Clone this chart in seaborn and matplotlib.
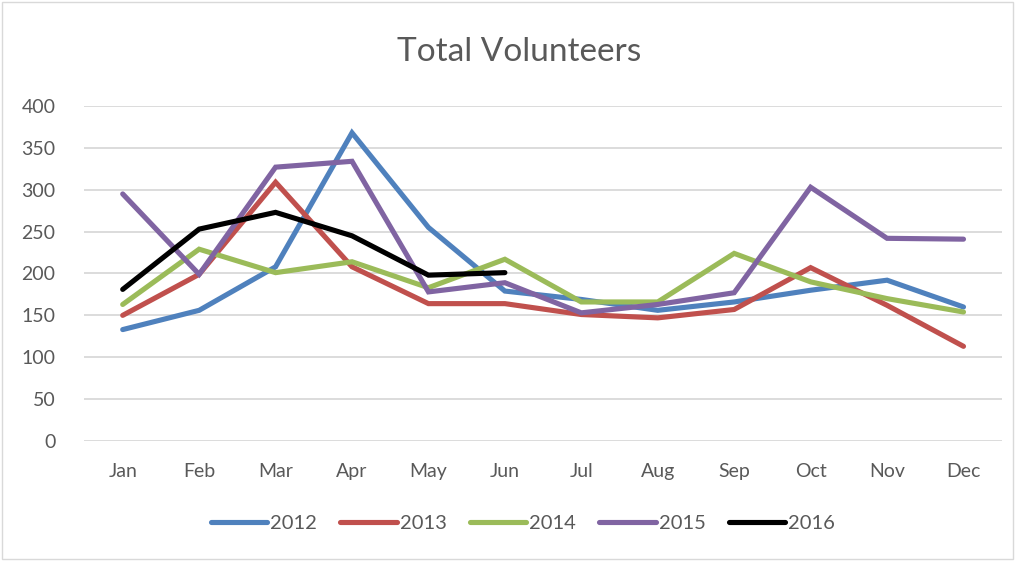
import pandas as pd
import matplotlib.pyplot as plt
import seaborn as sns
from matplotlib.patches import Rectangle

months = ["Jan", "Feb", "Mar", "Apr", "May", "Jun", "Jul", "Aug", "Sep", "Oct", "Nov", "Dec"]
v2012 = [133, 156, 208, 368, 255, 179, 169, 156, 166, 180, 192, 160]
v2013 = [150, 199, 309, 208, 164, 164, 151, 147, 157, 207, 162, 113]
v2014 = [163, 229, 201, 214, 183, 217, 166, 166, 224, 190, 170, 154]
v2015 = [295, 199, 327, 334, 178, 189, 153, 163, 177, 303, 242, 241]
v2016 = [181, 253, 273, 245, 198, 201]
years = ["2012", "2013", "2014", "2015", "2016"]
colors = ["#4F81BD", "#C0504D", "#9BBB59", "#8064A2", "#000000"]

rows = []
for yr, vals in zip(years, [v2012, v2013, v2014, v2015, v2016]):
    for i, v in enumerate(vals):
        rows.append({"Month": i, "Volunteers": v, "Year": yr})
df = pd.DataFrame(rows)

sns.set_style("white")
plt.rcParams["font.family"] = ["Lato", "DejaVu Sans"]
text_col = "#595959"

fig, ax = plt.subplots(figsize=(10.18, 5.61), dpi=100)
fig.subplots_adjust(left=0.083, right=0.984, top=0.811, bottom=0.214)

sns.lineplot(data=df, x="Month", y="Volunteers", hue="Year", palette=colors,
             linewidth=3.7, ax=ax, legend=True)
for line in ax.get_lines():
    line.set_solid_capstyle("round")
    line.set_solid_joinstyle("miter")

ax.set_xlim(-0.5, 11.5)
ax.set_ylim(0, 400)
ax.set_yticks(range(0, 401, 50))
ax.set_xticks(range(12))
ax.set_xticklabels(months)
ax.yaxis.grid(True, color="#D9D9D9", linewidth=1.3)
ax.set_axisbelow(True)
for s in ax.spines.values():
    s.set_visible(False)
ax.tick_params(axis="both", length=0, labelsize=14, colors=text_col)
ax.tick_params(axis="y", pad=21)
ax.tick_params(axis="x", pad=16)
ax.set_xlabel("")
ax.set_ylabel("")

fig.text(0.51, 0.908, "Total Volunteers", fontsize=24, color=text_col,
         ha="center", va="center")

handles, labels = ax.get_legend_handles_labels()
for h in handles:
    h.set_solid_capstyle("round")
ax.legend(handles, labels, loc="upper center", bbox_to_anchor=(0.478, -0.168),
          ncol=5, frameon=False, fontsize=14.5, handlelength=2.8,
          handletextpad=0.15, columnspacing=1.15, labelcolor=text_col)

fig.patches.append(Rectangle((0.002, 0.004), 0.993, 0.993, transform=fig.transFigure,
                             fill=False, edgecolor="#D9D9D9", linewidth=1))

plt.savefig("out.png", dpi=100)
